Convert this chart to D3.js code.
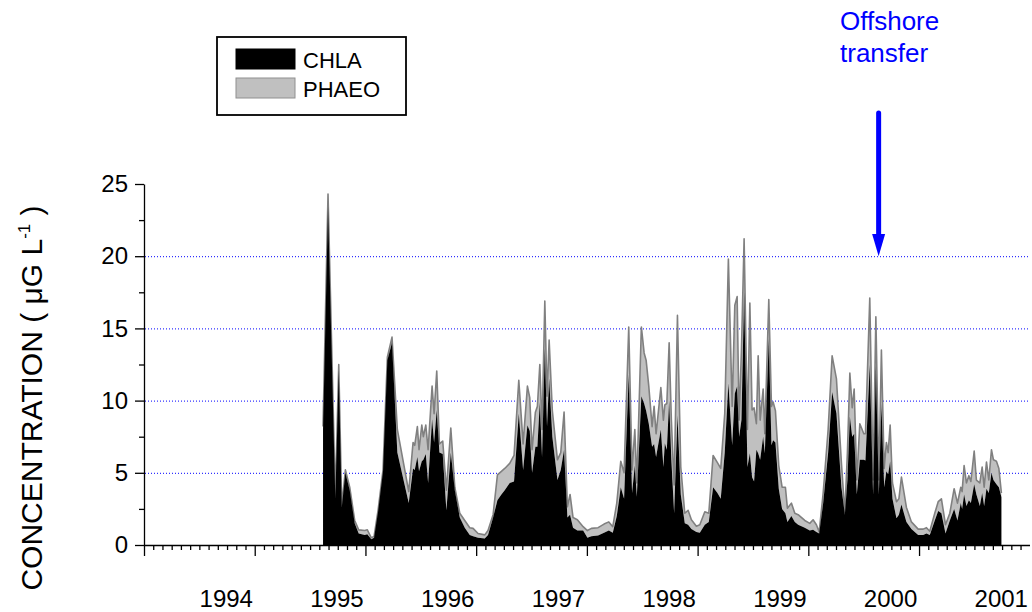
<!DOCTYPE html>
<html>
<head>
<meta charset="utf-8">
<script src="https://cdn.jsdelivr.net/npm/d3@7"></script>
<style>
  body { margin: 0; background: #fff; }
  svg text { font-family: "Liberation Sans", Arial, sans-serif; }
</style>
</head>
<body>
<div id="chart"></div>
<script>
// sample dates, decimal years
const dates = [
  1994.617, 1994.662, 1994.728, 1994.759, 1994.786, 1994.819, 1994.858, 1994.903, 1994.939, 1994.994,
  1995.017, 1995.053, 1995.078, 1995.114, 1995.159, 1995.198, 1995.240, 1995.288, 1995.391, 1995.430,
  1995.445, 1995.469, 1995.484, 1995.509, 1995.523, 1995.545, 1995.566, 1995.602, 1995.620, 1995.644,
  1995.668, 1995.698, 1995.731, 1995.771, 1995.807, 1995.852, 1995.897, 1995.942, 1995.972, 1996.017,
  1996.078, 1996.107, 1996.153, 1996.192, 1996.228, 1996.258, 1996.303, 1996.342, 1996.385, 1996.424,
  1996.463, 1996.484, 1996.505, 1996.535, 1996.553, 1996.575, 1996.595, 1996.620, 1996.640, 1996.659,
  1996.688, 1996.734, 1996.764, 1996.794, 1996.824, 1996.848, 1996.875, 1996.914, 1996.966, 1997.005,
  1997.041, 1997.101, 1997.155, 1997.198, 1997.234, 1997.270, 1997.306, 1997.336, 1997.378, 1997.408,
  1997.433, 1997.451, 1997.492, 1997.517, 1997.535, 1997.559, 1997.589, 1997.607, 1997.625, 1997.668,
  1997.691, 1997.704, 1997.722, 1997.743, 1997.763, 1997.788, 1997.818, 1997.848, 1997.884, 1997.914,
  1997.944, 1997.989, 1998.020, 1998.065, 1998.101, 1998.140, 1998.179, 1998.209, 1998.245, 1998.278,
  1998.312, 1998.336, 1998.357, 1998.375, 1998.396, 1998.420, 1998.450, 1998.472, 1998.492, 1998.510,
  1998.531, 1998.547, 1998.565, 1998.592, 1998.607, 1998.643, 1998.667, 1998.682, 1998.703, 1998.733,
  1998.763, 1998.793, 1998.811, 1998.847, 1998.878, 1998.908, 1998.968, 1999.013, 1999.043, 1999.073,
  1999.098, 1999.134, 1999.179, 1999.215, 1999.254, 1999.299, 1999.330, 1999.353, 1999.375, 1999.396,
  1999.414, 1999.438, 1999.465, 1999.501, 1999.516, 1999.555, 1999.585, 1999.610, 1999.637, 1999.660,
  1999.685, 1999.705, 1999.721, 1999.739, 1999.760, 1999.796, 1999.818, 1999.841, 1999.886, 1999.931,
  1999.992, 2000.037, 2000.067, 2000.097, 2000.142, 2000.173, 2000.202, 2000.239, 2000.278, 2000.317,
  2000.347, 2000.377, 2000.389, 2000.407, 2000.428, 2000.450, 2000.468, 2000.498, 2000.518, 2000.549,
  2000.570, 2000.588, 2000.609, 2000.630, 2000.654, 2000.672, 2000.699, 2000.721, 2000.744
];

const chla = [
  8.0, 23.4, 3.2, 12.1, 2.6, 5.0, 3.8, 1.5, 0.8, 0.7,
  0.75, 0.4, 0.5, 2.3, 5.1, 12.8, 14.0, 6.4, 2.9, 5.3,
  5.2, 6.1, 5.1, 5.8, 5.9, 6.3, 4.3, 8.7, 7.1, 9.35,
  6.4, 6.3, 2.4, 6.4, 3.8, 1.9, 1.2, 0.7, 0.6, 0.5,
  0.45, 0.7, 1.9, 3.1, 3.5, 3.8, 4.3, 4.4, 9.1, 5.2,
  8.3, 7.9, 5.0, 6.8, 6.8, 9.9, 6.1, 13.6, 8.2, 11.55,
  7.5, 4.5, 5.2, 6.6, 1.9, 2.1, 1.2, 1.0, 1.0, 0.5,
  0.6, 0.65, 0.85, 1.0, 0.85, 2.0, 4.0, 3.2, 11.8, 3.6,
  5.5, 3.35, 10.3, 9.8, 9.3, 8.4, 6.8, 7.0, 6.1, 8.0,
  5.4, 7.05, 6.6, 10.0, 5.9, 2.2, 9.0, 3.5, 1.5, 1.4,
  1.1, 0.9, 0.85, 1.4, 1.6, 4.0, 3.6, 3.2, 6.4, 11.2,
  6.9, 10.5, 11.0, 7.5, 8.65, 17.5, 5.4, 6.35, 4.7, 4.4,
  6.6, 6.35, 5.9, 7.5, 6.35, 14.3, 6.9, 7.25, 7.1, 3.9,
  2.5, 2.2, 1.6, 2.0, 1.6, 1.4, 1.2, 1.0, 1.05, 0.9,
  0.8, 2.9, 6.4, 10.6, 9.1, 4.0, 2.1, 4.5, 8.9, 7.5,
  7.7, 3.5, 5.9, 5.9, 5.85, 12.5, 3.5, 12.4, 3.5, 9.8,
  4.0, 5.1, 4.9, 5.8, 3.2, 1.85, 2.1, 2.8, 1.6, 1.1,
  0.7, 0.7, 0.8, 0.7, 1.7, 2.35, 2.2, 0.8, 1.7, 2.5,
  1.7, 2.9, 2.5, 3.5, 2.7, 3.1, 2.9, 4.2, 3.5, 2.7,
  3.6, 2.7, 3.9, 3.6, 5.0, 4.5, 4.2, 4.0, 3.3
];

const phaeo = [
  0.2, 0.9, 0.1, 0.4, 0.1, 0.2, 0.2, 0.2, 0.25, 0.3,
  0.3, 0.1, 0.1, 0.1, 0.1, 0.2, 0.4, 1.6, 0.8, 1.8,
  1.7, 2.1, 1.5, 2.5, 1.6, 2.0, 2.3, 2.3, 2.0, 2.7,
  0.6, 0.9, 1.4, 1.7, 0.2, 0.3, 0.5, 0.5, 0.55, 0.3,
  0.25, 0.3, 0.2, 1.75, 1.6, 1.5, 1.35, 1.8, 2.3, 1.8,
  2.7, 2.3, 1.6, 2.4, 2.8, 2.6, 1.9, 3.3, 2.1, 2.65,
  1.8, 1.4, 1.2, 2.6, 0.75, 1.4, 0.7, 0.75, 0.27, 0.5,
  0.55, 0.55, 0.6, 0.6, 0.42, 0.9, 1.8, 1.8, 3.3, 1.6,
  2.5, 0.95, 4.8, 3.5, 3.5, 2.6, 1.4, 2.6, 1.6, 2.9,
  3.25, 2.65, 3.2, 4.0, 2.75, 1.95, 6.9, 1.9, 0.7, 1.0,
  0.65, 0.4, 0.55, 0.9, 0.6, 2.2, 2.1, 2.1, 2.7, 8.6,
  2.7, 6.1, 6.2, 1.15, 4.85, 3.7, 2.6, 10.4, 4.65, 5.1,
  1.8, 6.75, 2.75, 3.3, 1.35, 2.7, 2.7, 2.65, 2.2, 1.6,
  1.5, 1.8, 0.95, 0.9, 0.6, 0.7, 0.5, 0.5, 0.7, 0.5,
  0.1, 0.7, 1.6, 2.5, 2.4, 1.65, 0.1, 1.9, 3.0, 2.0,
  3.1, 1.0, 2.5, 1.8, 1.85, 4.6, 1.0, 3.4, 1.0, 3.7,
  1.3, 2.0, 1.5, 2.5, 1.1, 1.15, 1.1, 1.9, 1.0, 0.5,
  0.4, 0.4, 0.4, 0.25, 0.5, 0.65, 1.0, 0.6, 0.5, 1.4,
  1.2, 1.1, 1.2, 2.0, 1.6, 1.7, 1.5, 2.3, 1.0, 1.6,
  1.8, 1.3, 1.85, 0.9, 1.6, 1.4, 1.6, 1.3, 0.3
];

const yMajor = [0, 5, 10, 15, 20, 25];
const yMinor = [2.5, 7.5, 12.5, 17.5, 22.5];
const gridValues = [5, 10, 15, 20];
const majorYears = [1993, 1994, 1995, 1996, 1997, 1998, 1999, 2000];
const labelYears = [1994, 1995, 1996, 1997, 1998, 1999, 2000, 2001];
const seriesNames = ["CHLA", "PHAEO"];
const noteLines = ["Offshore", "transfer"];
const transferDate = 1999.635;

const width = 1032, height = 612;
const plotLeft = 144, plotRight = 1027, plotTop = 184, plotBottom = 545;

const svg = d3.select("#chart").append("svg")
  .attr("width", width)
  .attr("height", height);

const x = d3.scaleLinear().domain([1993, 2000.975]).range([plotLeft, plotRight]);
const y = d3.scaleLinear().domain([0, 25]).range([plotBottom, plotTop]);

const rows = dates.map((d, i) => ({ date: d, CHLA: chla[i], PHAEO: phaeo[i] }));
const stacked = d3.stack().keys(seriesNames)(rows);

// dotted grid lines
svg.append("g").attr("class", "grid")
  .selectAll("line")
  .data(gridValues)
  .enter()
  .append("line")
  .attr("x1", plotLeft + 1)
  .attr("x2", 1030)
  .attr("y1", d => y(d) + 0.5)
  .attr("y2", d => y(d) + 0.5)
  .attr("stroke", "#0000ff")
  .attr("stroke-width", 1)
  .attr("stroke-dasharray", "1,2");

const area = d3.area()
  .x(d => x(d.data.date))
  .y0(d => y(d[0]))
  .y1(d => y(d[1]));

// phaeo on top of chla
svg.append("path")
  .datum(stacked[1])
  .attr("fill", "#c0c0c0")
  .attr("d", area);

svg.append("path")
  .datum(stacked[1])
  .attr("fill", "none")
  .attr("stroke", "#808080")
  .attr("stroke-width", 1.6)
  .attr("stroke-linejoin", "round")
  .attr("d", d3.line().x(d => x(d.data.date)).y(d => y(d[1])));

svg.append("path")
  .datum(stacked[0])
  .attr("fill", "#000")
  .attr("d", area);

// y axis
svg.append("g")
  .attr("transform", "translate(" + plotLeft + ",0)")
  .call(d3.axisLeft(y).tickValues(yMajor).tickSize(9).tickSizeOuter(0).tickPadding(7));
svg.append("g")
  .attr("transform", "translate(" + plotLeft + ",0)")
  .call(d3.axisLeft(y).tickValues(yMinor).tickSize(5).tickFormat(""))
  .select(".domain").remove();

// x axis: monthly minor ticks, yearly major ticks
const months = d3.range(1993, 2000.97, 1 / 12).filter(m => Math.abs(m - Math.round(m)) > 0.01);
const xAxis = svg.append("g")
  .attr("transform", "translate(0," + plotBottom + ")")
  .call(d3.axisBottom(x).tickValues(majorYears).tickSize(11).tickSizeOuter(0).tickFormat(""));
xAxis.select(".domain").attr("d", "M" + plotLeft + ",0.5H1030");
svg.append("g")
  .attr("transform", "translate(0," + plotBottom + ")")
  .call(d3.axisBottom(x).tickValues(months).tickSize(5).tickFormat(""))
  .select(".domain").remove();

const xLabels = svg.append("g")
  .attr("transform", "translate(0," + plotBottom + ")")
  .call(d3.axisBottom(x).tickValues(labelYears).tickSize(0).tickFormat(d3.format("d")));
xLabels.select(".domain").remove();
xLabels.selectAll("text")
  .attr("x", -29)
  .attr("y", 62)
  .attr("dy", null);

svg.selectAll(".tick line, .domain")
  .attr("stroke", "#000")
  .attr("stroke-width", 1.3);
svg.selectAll(".tick text")
  .attr("fill", "#000")
  .style("font-size", "24px")
  .style("font-family", "'Liberation Sans', Arial, sans-serif");

// y axis title
const title = svg.append("text")
  .attr("transform", "translate(42," + 398 + ") rotate(-90)")
  .attr("text-anchor", "middle")
  .style("font-size", "30px");
title.append("tspan").text("CONCENTRATION ( μG L");
title.append("tspan").attr("dy", -12).style("font-size", "17px").text("-1");
title.append("tspan").attr("dy", 12).text(" )");

// legend
const legend = svg.append("g").attr("transform", "translate(217,37)");
legend.append("rect")
  .attr("width", 189)
  .attr("height", 78)
  .attr("fill", "#fff")
  .attr("stroke", "#000")
  .attr("stroke-width", 1.8);
const legendItem = legend.selectAll(".item")
  .data(seriesNames)
  .enter()
  .append("g")
  .attr("class", "item")
  .attr("transform", (d, i) => "translate(0," + (12 + i * 29) + ")");
legendItem.append("rect")
  .attr("x", 19)
  .attr("width", 59)
  .attr("height", 20)
  .attr("fill", (d, i) => (i === 0 ? "#000" : "#c0c0c0"))
  .attr("stroke", (d, i) => (i === 0 ? "#000" : "#909090"))
  .attr("stroke-width", 1);
legendItem.append("text")
  .attr("x", 86)
  .attr("y", 19)
  .style("font-size", "22px")
  .text(d => d);

// offshore transfer note and arrow
svg.append("text")
  .attr("fill", "#0000ff")
  .style("font-size", "26px")
  .selectAll("tspan")
  .data(noteLines)
  .enter()
  .append("tspan")
  .attr("x", 840)
  .attr("y", (d, i) => 30 + i * 32)
  .text(d => d);

const ax = x(transferDate);
svg.append("line")
  .attr("x1", ax).attr("x2", ax)
  .attr("y1", 113).attr("y2", 238)
  .attr("stroke", "#0000ff")
  .attr("stroke-width", 5)
  .attr("stroke-linecap", "round");
svg.append("path")
  .attr("d", "M" + (ax - 6.5) + ",234L" + (ax + 6.5) + ",234L" + ax + "," + y(20) + "Z")
  .attr("fill", "#0000ff");
</script>
</body>
</html>
